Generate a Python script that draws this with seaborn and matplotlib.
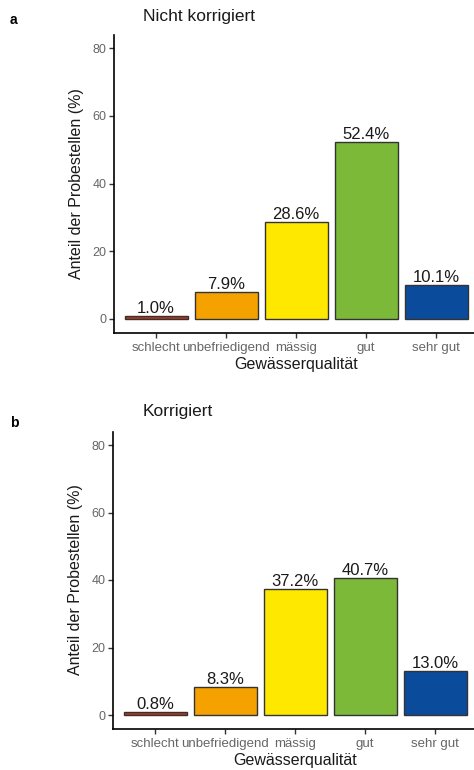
import matplotlib
matplotlib.use("Agg")
import matplotlib.pyplot as plt
import seaborn as sns
import pandas as pd

categories = ["schlecht", "unbefriedigend", "mässig", "gut", "sehr gut"]
values_a = [1.0, 7.9, 28.6, 52.4, 10.1]
values_b = [0.8, 8.3, 37.2, 40.7, 13.0]
colors = ["#B8361A", "#F5A200", "#FFE800", "#7CB939", "#0A4B9C"]
yticks = [0, 20, 40, 60, 80]
titles = ["Nicht korrigiert", "Korrigiert"]
panel_letters = ["a", "b"]

sns.set_theme(style="white")
plt.rcParams['font.family'] = ['Liberation Sans', 'DejaVu Sans']

fig = plt.figure(figsize=(4.74, 7.70), dpi=100)

axes_rects = [
    [114/474, 1 - 332.5/770, 364/474, 298/770],
    [113/474, 1 - 728.5/770, 364/474, 297/770],
]
title_pos = [(143/474, 1 - 17/770), (143/474, 1 - 412/770)]
letter_pos = [(10/474, 1 - 20/770), (10/474, 1 - 423/770)]

for vals, rect, title, tp, letter, lp in zip(
        [values_a, values_b], axes_rects, titles, title_pos, panel_letters, letter_pos):
    df = pd.DataFrame({"cat": categories, "val": vals})
    ax = fig.add_axes(rect)
    sns.barplot(data=df, x="cat", y="val", hue="cat", palette=colors,
                order=categories, hue_order=categories, legend=False,
                width=0.9, edgecolor="#333333", linewidth=1.0, ax=ax, saturation=1)
    for c in ax.containers:
        labels = [f"{v:.1f}%" for v in c.datavalues]
        ax.bar_label(c, labels=labels, padding=0, fontsize=12, color="#1a1a1a")
    ax.set_xlim(-0.6, 4.6)
    ax.set_ylim(-4, 84)
    ax.set_yticks(yticks)
    ax.set_yticklabels([str(t) for t in yticks])
    for s in ["top", "right"]:
        ax.spines[s].set_visible(False)
    for s in ["left", "bottom"]:
        ax.spines[s].set_color("black")
        ax.spines[s].set_linewidth(1.2)
    ax.tick_params(axis="both", which="both", length=3.5, width=1, color="#333333",
                   labelcolor="#666666", pad=2, left=True, bottom=True)
    ax.tick_params(axis="x", labelsize=9.5, pad=3)
    ax.tick_params(axis="y", labelsize=9)
    ax.set_xlabel("Gewässerqualität", fontsize=11.5, color="#1a1a1a", labelpad=2.5)
    ax.set_ylabel("Anteil der Probestellen (%)", fontsize=11.5, color="#1a1a1a", labelpad=6)
    ax.grid(False)
    fig.text(tp[0], tp[1], title, fontsize=12.5, color="#1a1a1a", ha="left", va="center")
    fig.text(lp[0], lp[1], letter, fontsize=10, fontweight="bold", color="black",
             ha="left", va="center")

fig.savefig("out.png", dpi=100)
